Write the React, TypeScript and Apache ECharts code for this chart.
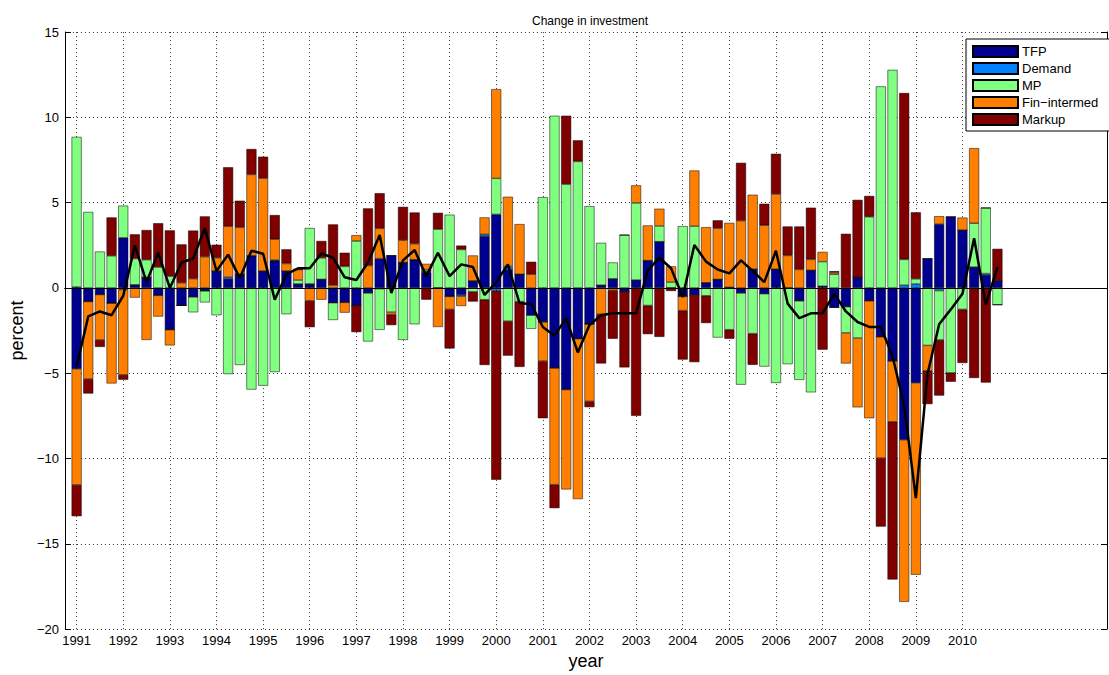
import React, { useEffect, useRef } from 'react';
import * as echarts from 'echarts';

const startYear = 1991;
const endYear = 2010;
const yearTicks: number[] = [];
for (let y = startYear; y <= endYear; y++) yearTicks.push(y);
const periods: number[] = [];
for (let y = startYear; y <= endYear; y++) for (let q = 0; q < 4; q++) periods.push(y + q / 4);

const seriesNames = ['TFP', 'Demand', 'MP', 'Fin\u2212intermed', 'Markup'];
const seriesColors = ['#00008F', '#0080FF', '#80FF80', '#FF8000', '#800000'];

const tfp = [-4.75, -0.8, -0.39, -0.9, 2.94, 0.18, 0.62, -0.44, -2.45, -1.03, -0.53, -0.18, 0.99, 0.53, 0.8, 1.88, 0.99, 1.6, 0.99, 0.23, 0.23, 0.5, -0.87, -0.85, -1.03, -0.3, 1.72, 1.9, 1.49, 1.65, 0.92, 0, -0.5, -0.41, 0.41, 3.03, 4.31, 1.08, 0.8, -1.6, -2.0, -4.7, -5.96, -2.98, -2.13, 0.16, 0.53, -0.23, 0.46, 1.6, 2.71, 0, -0.5, -0.41, 0.3, 0.5, 0.03, -0.3, 1.1, -0.34, 1.1, 0, -0.76, 1.03, 0.1, -1.15, -1.1, 0.62, -0.76, -2.87, -4.29, -8.9, -5.57, 1.72, 3.74, 4.17, 3.39, 1.22, 0.76, 0.41];
const demand = [0.05, 0, 0, 0, -0.1, 0, 0, 0, 0, 0, 0, 0, 0, 0.1, 0, 0, 0, 0.03, 0, 0, 0, 0, 0, 0, 0, 0, -0.05, 0, 0, 0, 0.05, 0, 0, -0.08, 0, 0.11, -0.16, 0.18, 0, 0, 0, 0, 0, 0, 0, 0, 0, 0, 0, 0, 0, 0, 0, 0, 0, 0, 0, 0, 0, 0, 0, 0, 0, 0, 0, 0, 0, 0, 0, 0, 0, 0.16, 0.23, 0, -0.16, 0, 0, 0, 0.08, 0];
const mp = [8.8, 4.45, 2.13, 1.88, 1.88, 1.54, 1.03, 1.22, 0.69, 0, -0.9, -0.67, -1.6, -5.05, -4.52, -5.96, -5.73, -4.93, -1.54, 0.23, 3.28, 1.26, -1.01, 1.26, 2.75, -2.84, -2.41, -1.42, -3.05, -2.13, 0.1, 3.44, 4.29, 2.25, -0.23, -0.69, 2.11, -1.95, -0.8, -0.8, 5.32, 10.09, 6.08, 7.41, 4.79, 2.48, 0.96, 3.1, 4.52, -1.03, 0.92, 0.34, 3.62, 3.62, -0.46, -2.91, -2.45, -5.37, -2.68, -4.27, -5.57, -4.47, -4.63, -6.12, 1.44, 0.8, -1.54, -2.94, 4.17, 11.81, 12.78, 1.51, 0.3, -3.37, -2.89, -5.0, -1.26, 2.57, 3.85, -0.99];
const finIntermed = [-6.8, -4.54, -2.66, -4.7, -5.0, -0.57, -3.05, -1.24, -0.92, 0.3, 0.54, 1.83, 0.78, 2.98, 2.75, 4.77, 5.44, 1.22, 0.44, 0.62, -0.76, -0.69, 0.16, -0.6, 0.34, 1.31, 1.77, -0.14, 1.31, 0.94, 0.34, -2.29, -0.76, -0.57, 1.49, 0.99, 5.23, 4.08, 2.94, 0.8, -2.29, -6.83, -5.85, -9.4, -4.52, -1.54, -0.14, 0, 1.03, 2.06, 1.01, 0.92, -0.83, 3.26, 3.26, 3.0, 3.78, 3.94, 4.36, 3.67, 4.4, 1.9, 1.08, 0.64, 0.57, 0.11, -1.79, -4.06, -6.88, -7.11, -3.56, -9.5, -11.24, -1.49, 0.46, 0, 0.73, 4.4, 0, 0];
const markup = [-1.83, -0.85, -0.41, 2.25, -0.28, 1.42, 1.74, 2.57, 2.68, 2.25, 2.82, 2.36, 0.76, 3.46, 1.56, 1.49, 1.26, 1.42, 0.83, 0.03, -1.54, 0.99, 3.56, 0.8, -1.56, 3.35, 2.06, -0.62, 1.95, 1.83, -0.69, 0.96, -2.29, 0.23, -0.57, -3.83, -11.08, -2.02, -3.83, 0.73, -3.35, -1.38, 4.01, 1.24, -0.34, -2.89, -2.84, -4.43, -7.5, -1.68, -2.87, -0.18, -2.87, -3.94, -1.6, 0.46, -0.53, 3.39, -1.83, 1.26, 2.36, 1.7, 2.52, 3.03, -3.62, 0.07, 3.17, 4.54, 1.22, -4.01, -9.24, 9.75, 3.9, -1.95, -3.26, -0.5, -3.14, -5.28, -5.55, 1.88];
const total = [-4.6, -1.67, -1.38, -1.6, -0.46, 2.48, 0.34, 2.06, 0.0, 1.49, 1.72, 3.5, 0.99, 1.95, 0.57, 2.18, 2.0, -0.69, 0.8, 1.15, 1.15, 2.02, 1.77, 0.62, 0.46, 1.49, 3.1, -0.3, 1.61, 2.22, 0.69, 2.06, 0.69, 1.38, 1.22, -0.41, 0.34, 1.38, -0.9, -0.95, -2.29, -2.8, -1.77, -3.78, -2.18, -1.6, -1.49, -1.49, -1.49, 1.03, 1.77, 1.15, -0.53, 2.52, 1.54, 1.08, 0.85, 1.61, 0.99, 0.34, 2.18, -0.92, -1.77, -1.49, -1.49, -0.34, -1.38, -2.0, -2.29, -2.29, -4.01, -6.88, -12.32, -5.05, -2.13, -1.26, -0.34, 2.91, -0.99, 1.22];

const componentValues = [tfp, demand, mp, finIntermed, markup];

const FONT = '"Liberation Sans", Arial, Helvetica, sans-serif';
const minus = (v: number) => String(v).replace('-', '\u2212');

export default function App() {
  const ref = useRef<HTMLDivElement>(null);
  useEffect(() => {
    if (!ref.current) return;
    const chart = echarts.init(ref.current, null, { renderer: 'svg' });
    const xMin = 1990.75;
    const xMax = 2013.1;
    const barSeries = componentValues.map((vals, k) => ({
      name: seriesNames[k],
      type: 'bar',
      stack: 'total',
      barWidth: 10,
      // value first so that the stacked dimension is the y value
      dimensions: [
        { name: 'val', type: 'float' },
        { name: 'period', type: 'float' },
      ],
      encode: { x: 1, y: 0 },
      data: periods.map((p, i) => [vals[i], p]),
      itemStyle: { color: seriesColors[k], borderColor: '#000', borderWidth: 0.5 },
      z: 2,
    }));
    chart.setOption({
      animation: false,
      backgroundColor: '#fff',
      title: {
        text: 'Change in investment',
        left: 585,
        top: 10,
        textAlign: 'center',
        textStyle: { fontSize: 12, fontWeight: 'normal', color: '#000', fontFamily: FONT },
      },
      legend: {
        data: seriesNames,
        orient: 'vertical',
        left: 966,
        top: 39,
        backgroundColor: '#fff',
        borderColor: '#000',
        borderWidth: 1,
        borderRadius: 0,
        padding: [6, 30, 5, 6],
        itemWidth: 45,
        itemHeight: 11,
        itemGap: 4,
        icon: 'rect',
        textStyle: { fontSize: 13, color: '#000', fontFamily: FONT, padding: [0, 0, 0, -1] },
      },
      grid: { left: 63, right: 2, top: 32, bottom: 43, show: false },
      xAxis: [
        {
          type: 'value',
          min: xMin,
          max: xMax,
          position: 'bottom',
          name: 'year',
          nameLocation: 'middle',
          nameGap: 21,
          nameTextStyle: { fontSize: 18, color: '#000', fontFamily: FONT },
          axisLine: { show: true, lineStyle: { color: '#000', width: 1 } },
          axisTick: { show: true, inside: true, length: 6, customValues: yearTicks, lineStyle: { color: '#000' } },
          axisLabel: { show: true, customValues: yearTicks, fontSize: 13, color: '#000', fontFamily: FONT, margin: 5, formatter: (v: number) => String(v) },
          splitLine: { show: false },
        },
        {
          type: 'value',
          min: xMin,
          max: xMax,
          position: 'top',
          axisLine: { show: true, lineStyle: { color: '#000', width: 1 } },
          axisTick: { show: true, inside: true, length: 6, customValues: yearTicks, lineStyle: { color: '#000' } },
          axisLabel: { show: false },
          splitLine: { show: false },
        },
      ],
      yAxis: [
        {
          type: 'value',
          min: -20,
          max: 15,
          interval: 5,
          position: 'left',
          name: 'percent',
          nameLocation: 'middle',
          nameGap: 28,
          nameTextStyle: { fontSize: 18, color: '#000', fontFamily: FONT },
          axisLine: { show: true, lineStyle: { color: '#000', width: 1 } },
          axisTick: { show: true, inside: true, length: 6, lineStyle: { color: '#000' } },
          axisLabel: { fontSize: 13, color: '#000', fontFamily: FONT, margin: 6, formatter: (v: number) => minus(v) },
          splitLine: { show: true, lineStyle: { color: '#333', type: [1, 3], width: 1 } },
        },
        {
          type: 'value',
          min: -20,
          max: 15,
          interval: 5,
          position: 'right',
          axisLine: { show: true, lineStyle: { color: '#000', width: 1 } },
          axisTick: { show: true, inside: true, length: 6, lineStyle: { color: '#000' } },
          axisLabel: { show: false },
          splitLine: { show: false },
        },
      ],
      series: [
        {
          name: 'grid-lines',
          type: 'line',
          data: periods.map((p, i) => [p, total[i]]),
          lineStyle: { opacity: 0 },
          showSymbol: false,
          symbol: 'none',
          silent: true,
          z: 1,
          markLine: {
            z: 1,
            silent: true,
            symbol: ['none', 'none'],
            label: { show: false },
            lineStyle: { color: '#333', type: [1, 3], width: 1 },
            data: yearTicks.map((y) => ({ xAxis: y })),
          },
        },
        ...barSeries,
        {
          name: 'Total',
          type: 'line',
          data: periods.map((p, i) => [p, total[i]]),
          symbol: 'none',
          showSymbol: false,
          lineStyle: { color: '#000', width: 2.5 },
          itemStyle: { color: '#000' },
          z: 10,
          markLine: {
            z: 5,
            silent: true,
            symbol: ['none', 'none'],
            label: { show: false },
            lineStyle: { color: '#000', type: 'solid', width: 1 },
            data: [{ yAxis: 0 }],
          },
        },
      ],
    });
    return () => chart.dispose();
  }, []);
  return <div ref={ref} style={{ position: 'fixed', left: 0, top: 0, width: 1109, height: 675 }} />;
}
